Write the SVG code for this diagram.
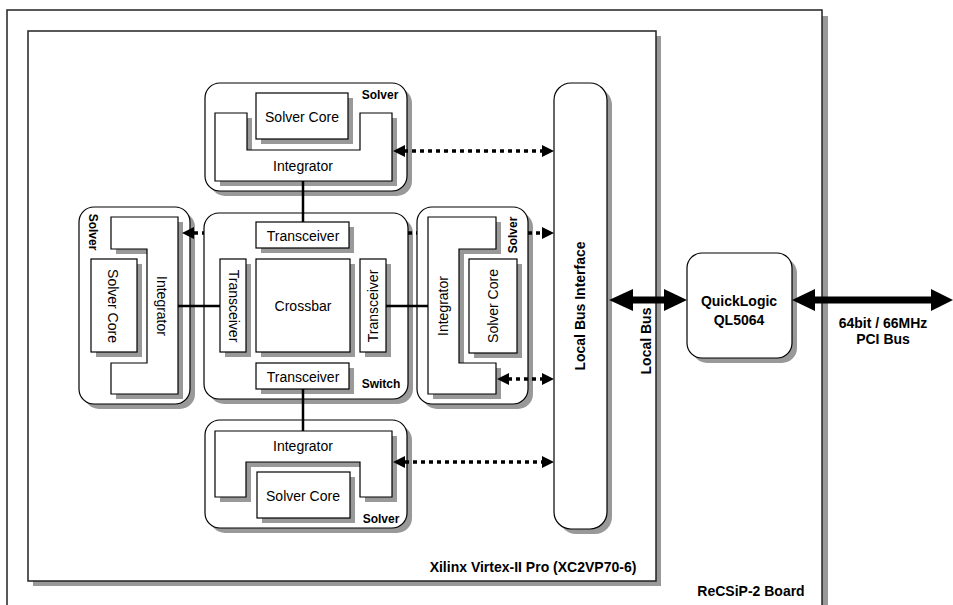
<svg xmlns="http://www.w3.org/2000/svg" width="953" height="605" viewBox="0 0 953 605">
<style>
.sh{fill:#999;stroke:none}
.bx{fill:#fff;stroke:#000;stroke-width:1.2}
.fr{fill:#fff;stroke:#222;stroke-width:1.5}
.t{font-family:"Liberation Sans",Arial,sans-serif;font-size:14px;text-anchor:middle;dominant-baseline:central;fill:#000}
.b{font-weight:bold}
.s{font-size:12px}
.ln{stroke:#000;stroke-width:2.5;fill:none}
.dot{stroke:#000;stroke-width:3.5;stroke-dasharray:4 4;fill:none}
.thick{stroke:#000;stroke-width:7;fill:none}
.ah{fill:#000;stroke:none}
</style>
<rect width="953" height="605" fill="#fff"/>
<g id="board">
<rect class="sh" x="13" y="16" width="815" height="600"/>
<rect class="fr" x="7" y="10" width="815" height="600"/>
<text class="t b" x="751" y="591">ReCSiP-2 Board</text>
</g>
<g id="fpga">
<rect class="sh" x="33" y="36" width="628" height="550"/>
<rect class="fr" x="28" y="31" width="628" height="550"/>
<text class="t b" x="533" y="567">Xilinx Virtex-II Pro (XC2VP70-6)</text>
</g>
<g id="solver-top">
<rect class="sh" x="210" y="88" width="202" height="108" rx="15"/>
<rect class="bx" x="205" y="83" width="202" height="108" rx="15"/>
<path class="sh" d="M220,118H252V155H365V118H397V186H220Z"/>
<path class="bx" d="M215,113H247V150H360V113H392V181H215Z"/>
<rect class="sh" x="261" y="98" width="92" height="46"/>
<rect class="bx" x="256" y="93" width="92" height="46"/>
<text class="t" x="302" y="117">Solver Core</text>
<text class="t" x="303" y="166">Integrator</text>
<text class="t b s" x="380" y="95">Solver</text>
</g>
<g id="solver-left">
<rect class="sh" x="84" y="212" width="111" height="197" rx="15"/>
<rect class="bx" x="79" y="207" width="111" height="197" rx="15"/>
<path class="sh" d="M116,222H183V399H116V368H152V254H116Z"/>
<path class="bx" d="M111,217H178V394H111V363H147V249H111Z"/>
<rect class="sh" x="96" y="264" width="46" height="93"/>
<rect class="bx" x="91" y="259" width="46" height="93"/>
<text class="t" transform="translate(113,306) rotate(90)">Solver Core</text>
<text class="t" transform="translate(162,306) rotate(90)">Integrator</text>
<text class="t b s" transform="translate(93,232) rotate(90)">Solver</text>
</g>
<g id="switch">
<rect class="sh" x="209" y="218" width="204" height="186" rx="15"/>
<rect class="bx" x="204" y="213" width="204" height="186" rx="15"/>
<rect class="sh" x="261" y="227" width="93" height="26"/>
<rect class="bx" x="256" y="222" width="93" height="26"/>
<text class="t" x="303" y="236">Transceiver</text>
<rect class="sh" x="261" y="368" width="93" height="26"/>
<rect class="bx" x="256" y="363" width="93" height="26"/>
<text class="t" x="303" y="377">Transceiver</text>
<rect class="sh" x="225" y="264" width="26" height="93"/>
<rect class="bx" x="220" y="259" width="26" height="93"/>
<text class="t" transform="translate(234,306) rotate(90)">Transceiver</text>
<rect class="sh" x="365" y="264" width="26" height="93"/>
<rect class="bx" x="360" y="259" width="26" height="93"/>
<text class="t" transform="translate(373,306) rotate(-90)">Transceiver</text>
<rect class="sh" x="261" y="264" width="94" height="93"/>
<rect class="bx" x="256" y="259" width="94" height="93"/>
<text class="t" x="303" y="306">Crossbar</text>
<text class="t b s" x="381" y="384">Switch</text>
</g>
<g id="solver-right">
<rect class="sh" x="422" y="212" width="111" height="197" rx="15"/>
<rect class="bx" x="417" y="207" width="111" height="197" rx="15"/>
<path class="sh" d="M433,222H501V254H464V368H501V399H433Z"/>
<path class="bx" d="M428,217H496V249H459V363H496V394H428Z"/>
<rect class="sh" x="474" y="264" width="48" height="94"/>
<rect class="bx" x="469" y="259" width="48" height="94"/>
<text class="t" transform="translate(493,306) rotate(-90)">Solver Core</text>
<text class="t" transform="translate(443,306) rotate(-90)">Integrator</text>
<text class="t b s" transform="translate(513,235) rotate(-90)">Solver</text>
</g>
<g id="solver-bottom">
<rect class="sh" x="210" y="425" width="202" height="108" rx="15"/>
<rect class="bx" x="205" y="420" width="202" height="108" rx="15"/>
<path class="sh" d="M220,436H397V502H365V467H251V502H220Z"/>
<path class="bx" d="M215,431H392V497H360V462H246V497H215Z"/>
<rect class="sh" x="262" y="477" width="93" height="46"/>
<rect class="bx" x="257" y="472" width="93" height="46"/>
<text class="t" x="303" y="446">Integrator</text>
<text class="t" x="303" y="496">Solver Core</text>
<text class="t b s" x="381" y="519">Solver</text>
</g>
<g id="local-bus-interface">
<rect class="sh" x="559" y="88" width="53" height="446" rx="17"/>
<rect class="bx" x="554" y="83" width="53" height="446" rx="17"/>
<text class="t b" transform="translate(580,306) rotate(-90)">Local Bus Interface</text>
</g>
<g id="quicklogic">
<rect class="sh" x="692" y="258" width="105" height="105" rx="15"/>
<rect class="bx" x="687" y="253" width="105" height="105" rx="15"/>
<text class="t b" x="739" y="301">QuickLogic</text>
<text class="t b" x="739" y="320">QL5064</text>
</g>
<g id="connectors">
<line class="ln" x1="303" y1="181" x2="303" y2="222"/>
<line class="ln" x1="178" y1="306" x2="220" y2="306"/>
<line class="ln" x1="386" y1="306" x2="428" y2="306"/>
<line class="ln" x1="303" y1="389" x2="303" y2="431"/>
<line class="dot" x1="404" y1="151" x2="543" y2="151"/>
<polygon class="ah" points="393,151 405,145 405,157"/>
<polygon class="ah" points="554,151 542,145 542,157"/>
<line class="dot" x1="194" y1="233" x2="204" y2="233"/>
<line class="dot" x1="408" y1="233" x2="417" y2="233"/>
<line class="dot" x1="528" y1="233" x2="543" y2="233"/>
<polygon class="ah" points="182,233 194,227 194,239"/>
<polygon class="ah" points="554,233 542,227 542,239"/>
<line class="dot" x1="508" y1="379" x2="543" y2="379"/>
<polygon class="ah" points="497,379 509,373 509,385"/>
<polygon class="ah" points="554,379 542,373 542,385"/>
<line class="dot" x1="405" y1="462" x2="543" y2="462"/>
<polygon class="ah" points="393,462 405,456 405,468"/>
<polygon class="ah" points="554,462 542,456 542,468"/>
<line class="thick" x1="630" y1="300" x2="667" y2="300"/>
<polygon class="ah" points="609,300 633,289 633,311"/>
<polygon class="ah" points="687,300 664,289 664,311"/>
<line class="thick" x1="812" y1="300" x2="934" y2="300"/>
<polygon class="ah" points="792,300 815,289 815,311"/>
<polygon class="ah" points="953,300 931,289 931,311"/>
</g>
<g id="labels">
<text class="t b" transform="translate(646,341) rotate(-90)">Local Bus</text>
<text class="t b" x="883" y="323">64bit / 66MHz</text>
<text class="t b" x="883" y="339">PCI Bus</text>
</g>
</svg>
